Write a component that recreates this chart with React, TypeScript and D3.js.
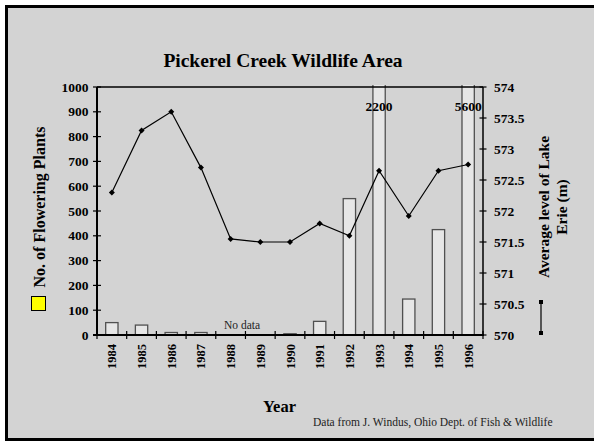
import React from "react";
import * as d3 from "d3";

// Flowering plant counts (null = no survey) and mean lake level per year
const years = ["1984", "1985", "1986", "1987", "1988", "1989", "1990", "1991", "1992", "1993", "1994", "1995", "1996"];
const plants: (number | null)[] = [50, 40, 10, 10, null, null, 5, 55, 550, 2200, 145, 425, 5600];
const lakeLevel = [572.3, 573.3, 573.6, 572.7, 571.55, 571.5, 571.5, 571.8, 571.6, 572.65, 571.92, 572.65, 572.75];
const leftTicks = [0, 100, 200, 300, 400, 500, 600, 700, 800, 900, 1000];
const rightTicks = [570, 570.5, 571, 571.5, 572, 572.5, 573, 573.5, 574];

const W = 594;
const H = 447;
const FONT = "'Liberation Serif', 'Times New Roman', Times, serif";
const plot = { left: 97, right: 483, top: 87, bottom: 335 };

export default function App() {
  const x = d3
    .scaleBand<string>()
    .domain(years)
    .range([plot.left, plot.right])
    .paddingInner(0.585)
    .paddingOuter(0.2925);
  const step = x.step();
  const yL = d3.scaleLinear().domain([0, 1000]).range([plot.bottom, plot.top]);
  const yR = d3.scaleLinear().domain([570, 574]).range([plot.bottom, plot.top]);

  const line = d3
    .line<number>()
    .x((_, i) => (x(years[i]) as number) + x.bandwidth() / 2)
    .y((d) => yR(d));

  const bandEdges = d3.range(years.length + 1).map((i) => plot.left + i * step);

  return (
    <svg
      width={W}
      height={H}
      style={{ position: "absolute", left: 0, top: 0, background: "#ffffff" }}
      fontFamily={FONT}
    >
      <defs>
        <clipPath id="plotClip">
          <rect x={plot.left} y={plot.top - 2} width={plot.right - plot.left} height={plot.bottom - plot.top + 2} />
        </clipPath>
      </defs>
      {/* outer frame */}
      <rect x={6.5} y={6.5} width={600} height={433} fill="#d3d3d3" stroke="#000" strokeWidth={3} />

      <text x={283} y={67} textAnchor="middle" fontWeight="bold" fontSize={19.5}>
        Pickerel Creek Wildlife Area
      </text>

      {/* bars */}
      <g clipPath="url(#plotClip)">
        {plants.map((v, i) =>
          v == null ? null : (
            <rect
              key={years[i]}
              x={x(years[i])}
              y={Math.max(yL(v), plot.top - 3)}
              width={x.bandwidth()}
              height={plot.bottom - Math.max(yL(v), plot.top - 3)}
              fill="#e6e6e6"
              stroke="#505050"
              strokeWidth={1.3}
            />
          )
        )}
      </g>
      {plants.map((v, i) =>
        v != null && v > 1000 ? (
          <text
            key={"lab" + years[i]}
            x={(x(years[i]) as number) + x.bandwidth() / 2}
            y={111}
            textAnchor="middle"
            fontWeight="bold"
            fontSize={13.5}
          >
            {v}
          </text>
        ) : null
      )}
      <text x={224} y={329} fontSize={11.5} fill="#222">
        No data
      </text>

      {/* top border of plot */}
      <line x1={plot.left} x2={plot.right} y1={plot.top} y2={plot.top} stroke="#000" strokeWidth={1.5} />

      {/* left axis */}
      <line x1={plot.left} x2={plot.left} y1={plot.top} y2={plot.bottom + 1} stroke="#000" strokeWidth={2} />
      {leftTicks.map((t) => (
        <g key={"l" + t}>
          <line x1={plot.left - 4} x2={plot.left + 4} y1={yL(t)} y2={yL(t)} stroke="#000" strokeWidth={1.2} />
          <text x={88.5} y={yL(t) + 4.5} textAnchor="end" fontWeight="bold" fontSize={13.5}>
            {t}
          </text>
        </g>
      ))}

      {/* right axis */}
      <line x1={plot.right} x2={plot.right} y1={plot.top} y2={plot.bottom} stroke="#000" strokeWidth={1.5} />
      {rightTicks.map((t) => (
        <g key={"r" + t}>
          <line x1={plot.right - 3.5} x2={plot.right + 3.5} y1={yR(t)} y2={yR(t)} stroke="#000" strokeWidth={1.2} />
          <text x={494} y={yR(t) + 4.5} textAnchor="start" fontWeight="bold" fontSize={13.5}>
            {t}
          </text>
        </g>
      ))}

      {/* x axis */}
      <line x1={plot.left - 4} x2={plot.right + 1} y1={plot.bottom} y2={plot.bottom} stroke="#000" strokeWidth={2} />
      {bandEdges.map((bx, i) => (
        <line key={"xt" + i} x1={bx} x2={bx} y1={plot.bottom - 4} y2={plot.bottom + 4} stroke="#000" strokeWidth={1.2} />
      ))}
      {years.map((yr) => {
        const cx = (x(yr) as number) + x.bandwidth() / 2;
        return (
          <text
            key={"xl" + yr}
            transform={`translate(${cx + 4.5},344) rotate(-90)`}
            textAnchor="end"
            fontWeight="bold"
            fontSize={12.5}
          >
            {yr}
          </text>
        );
      })}

      {/* lake level line */}
      <path d={line(lakeLevel) || ""} fill="none" stroke="#000" strokeWidth={1.2} />
      {lakeLevel.map((v, i) => {
        const cx = (x(years[i]) as number) + x.bandwidth() / 2;
        const cy = yR(v);
        return <path key={"m" + i} d={`M${cx},${cy - 3}L${cx + 3},${cy}L${cx},${cy + 3}L${cx - 3},${cy}Z`} fill="#000" />;
      })}

      {/* left axis title and legend key */}
      <text transform="translate(45,207) rotate(-90)" textAnchor="middle" fontWeight="bold" fontSize={16}>
        No. of Flowering Plants
      </text>
      <rect x={31.5} y={296.5} width={14} height={14} fill="#ffff00" stroke="#000" strokeWidth={1} />

      {/* right axis title and legend key */}
      <text transform="translate(549,207) rotate(-90)" textAnchor="middle" fontWeight="bold" fontSize={15.5}>
        Average level of Lake
      </text>
      <text transform="translate(567,207) rotate(-90)" textAnchor="middle" fontWeight="bold" fontSize={15.5}>
        Erie (m)
      </text>
      <line x1={541} x2={541} y1={302} y2={333} stroke="#000" strokeWidth={1.2} />
      <rect x={539} y={300} width={4} height={4} fill="#000" />
      <rect x={539} y={331} width={4} height={4} fill="#000" />

      <text x={263} y={412} fontWeight="bold" fontSize={16.5}>
        Year
      </text>
      <text x={313} y={426} fontSize={11.5} fill="#222">
        Data from J. Windus, Ohio Dept. of Fish &amp; Wildlife
      </text>
    </svg>
  );
}
